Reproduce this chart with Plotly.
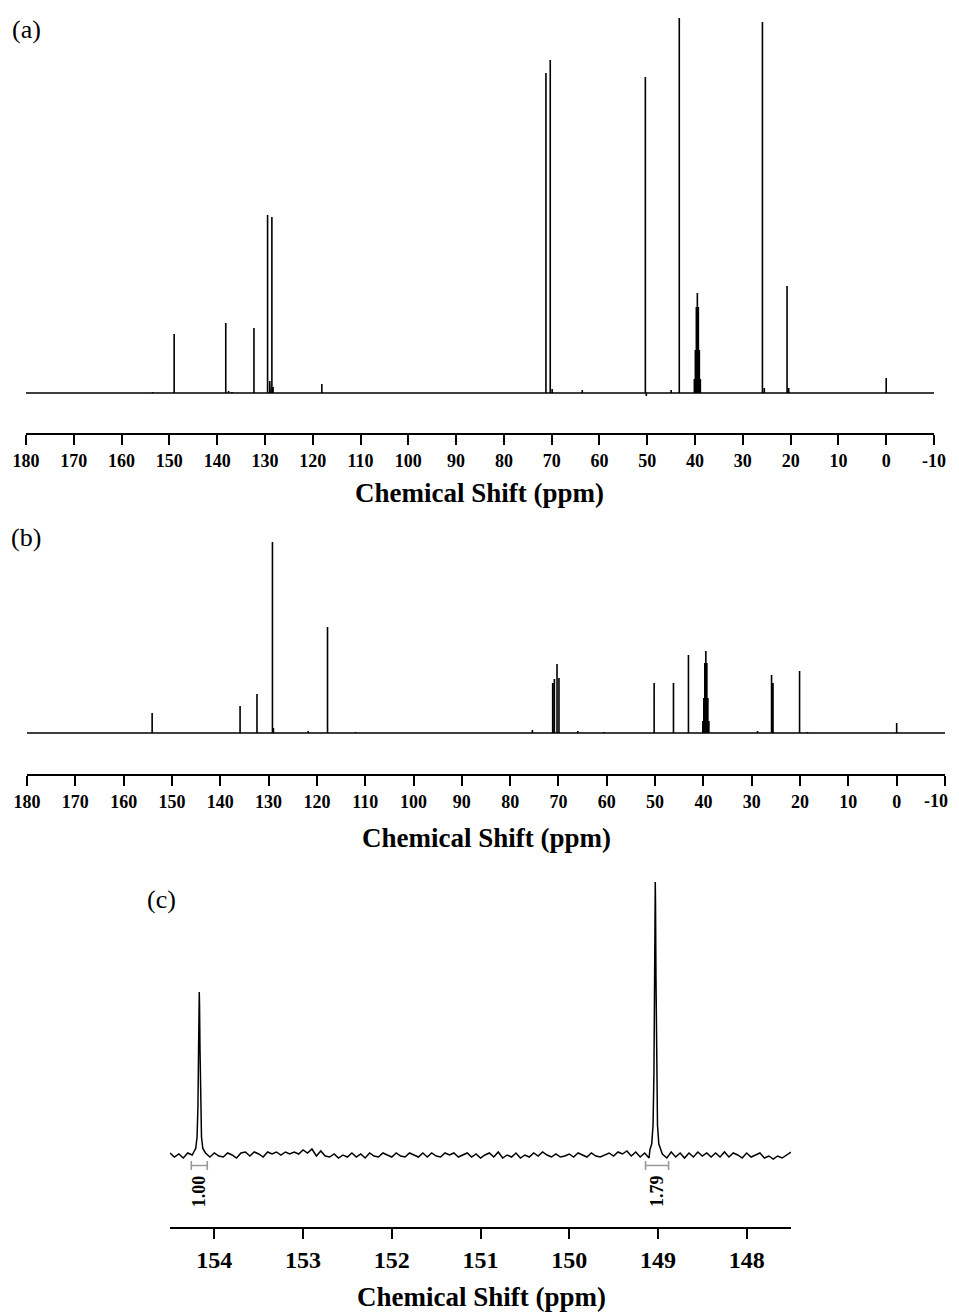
import numpy as np
import plotly.graph_objects as go

# ---------------- data ----------------
# Panel (a): peak positions (ppm) and heights (arbitrary units)
a_ppm = [153.5, 149.0, 138.2, 137.6, 136.9, 132.3, 129.45, 129.0, 128.9, 128.55, 128.3, 118.1,
         71.2, 70.3, 69.9, 63.6, 50.4, 50.2, 45.0, 43.3,
         40.15, 39.94, 39.73, 39.52, 39.31, 39.10, 38.89,
         25.9, 25.5, 20.75, 20.4, 0.0]
a_int = [1, 59, 70, 2, 1, 65, 178, 12, 8, 176, 6, 9,
         320, 333, 4, 3, 316, -3, 3, 375,
         14, 43, 86, 100, 86, 43, 14,
         371, 5, 107, 5, 15]

# Panel (b)
b_ppm = [154.1, 135.9, 132.4, 129.2, 129.0, 121.8, 117.8, 112.0, 75.4,
         71.2, 70.85, 70.3, 69.9, 66.0, 60.5, 50.2, 46.2, 43.1,
         40.13, 39.92, 39.71, 39.50, 39.29, 39.08, 38.87,
         28.8, 25.9, 25.6, 20.1, 18.5, 0.0]
b_int = [20, 27, 39, 191, 5, 2, 106, 1, 3,
         50, 54, 69, 55, 2, 1, 50, 50, 78,
         12, 35, 70, 82, 70, 35, 12,
         2, 58, 50, 62, 1, 10]

# Panel (c): expanded region 154.5 - 147.5 ppm
c_peak_ppm = [154.17, 149.03]
c_peak_int = [163, 273]
# line-shape (offset in ppm, fraction of peak height)
c_shape_off = [-0.06, -0.04, -0.025, -0.015, -0.008, -0.003, 0.0, 0.003, 0.008, 0.015, 0.025, 0.04, 0.06]
c_shape_frac = [0.02, 0.04, 0.11, 0.30, 0.65, 0.92, 1.0, 0.92, 0.65, 0.30, 0.11, 0.04, 0.02]
# baseline wiggles, read every 0.05 ppm from 154.50 to 147.50
c_base = [2, -2, 1, -3, 2, 0, 0, 0, 2, -2, 2, -1, -2, 2, 0, -3, 2, 3, -1, 3,
          1, -2, 3, 1, 3, 0, 3, 1, 3, 1, 5, 2, 6, -1, 4, -1, -2, 1, -3, 0,
          -2, 2, -2, 1, -3, 2, -1, -2, 2, 0, -2, 2, -1, -2, 2, 0, -2, 2, -2, 2,
          -1, -2, 2, 0, 2, -2, 0, 2, -2, 1, -3, 0, 2, -2, 3, -3, 0, -2, 2, -3,
          0, -2, 2, -1, 3, 0, -2, 1, -2, -1, 1, -2, 2, 0, -2, 2, -1, -2, 0, 2,
          -1, 3, 1, 4, -1, 3, -2, 2, -3, 1, 0, 1, -3, 3, -2, 2, -3, 2, -2, 3,
          -1, 2, -2, 2, -2, 3, -2, 2, 0, -3, 2, -2, 0, 2, -3, -1, -4, -1, -3, 0, 3]
c_int_lo = [154.26, 149.14]
c_int_hi = [154.08, 148.88]
c_int_val = ["1.00", "1.79"]

ticks_ab = [180, 170, 160, 150, 140, 130, 120, 110, 100, 90, 80, 70, 60, 50, 40, 30, 20, 10, 0, -10]
ticktext_ab = ["180", "170", "160", "150", "140", "130", "120", "110", "100", "90",
               "80", "70", "60", "50", "40", "30", "20", "10", "0", "-10"]
ticks_c = [154, 153, 152, 151, 150, 149, 148]

# ---------------- layout helpers ----------------
OFF = 8                      # page margin of the html body
W, H = 959 - OFF, 1314 - OFF
def py(p):  # page pixel row -> paper y
    return 1 - (p - OFF) / H
def px(p):  # page pixel column -> paper x
    return (p - OFF) / W

def sticks(ppm, inten, lo, hi):
    order = np.argsort(ppm)[::-1]
    xs, ys = [lo], [0]
    for i in order:
        xs += [ppm[i], ppm[i], ppm[i]]
        ys += [0, inten[i], 0]
    xs.append(hi); ys.append(0)
    return xs, ys

fig = go.Figure()
serif = "Liberation Serif"

xa, ya = sticks(a_ppm, a_int, 180, -10)
fig.add_trace(go.Scatter(x=xa, y=ya, mode="lines", line=dict(color="black", width=1.6),
                         xaxis="x", yaxis="y", showlegend=False, hoverinfo="skip"))
xb, yb = sticks(b_ppm, b_int, 180, -10)
fig.add_trace(go.Scatter(x=xb, y=yb, mode="lines", line=dict(color="black", width=1.6),
                         xaxis="x2", yaxis="y2", showlegend=False, hoverinfo="skip"))

# panel c curve
bx = np.linspace(154.5, 147.5, len(c_base))
pts = []
for x, v in zip(bx, c_base):
    if all(abs(x - c) > 0.065 for c in c_peak_ppm):
        pts.append((x, v))
for c, h in zip(c_peak_ppm, c_peak_int):
    for o, f in zip(c_shape_off, c_shape_frac):
        pts.append((c + o, h * f))
pts.sort(key=lambda t: -t[0])
fig.add_trace(go.Scatter(x=[p[0] for p in pts], y=[p[1] for p in pts], mode="lines",
                         line=dict(color="black", width=1.5),
                         xaxis="x3", yaxis="y3", showlegend=False, hoverinfo="skip"))

# integration brackets
for lo, hi, val in zip(c_int_lo, c_int_hi, c_int_val):
    fig.add_trace(go.Scatter(x=[lo, lo, lo, hi, hi, hi], y=[-6, -15, -10.5, -10.5, -6, -15],
                             mode="lines", line=dict(color="#9a9a9a", width=1.6),
                             xaxis="x3", yaxis="y3", showlegend=False, hoverinfo="skip"))
    fig.add_annotation(x=(lo + hi) / 2, y=-36, xref="x3", yref="y3", text=val, textangle=-90,
                       showarrow=False, font=dict(family=serif, size=18, color="black", weight="bold"))

xcommon = dict(showline=True, linecolor="black", linewidth=2, ticks="outside", tickcolor="black",
               tickwidth=2, showgrid=False, zeroline=False, mirror=False, automargin=False,
               ticklabeloverflow="allow")
tf_ab = dict(family=serif, size=18, color="black", weight="bold")
tf_c = dict(family=serif, size=24, color="black", weight="bold")
yhidden = dict(visible=False, showgrid=False, zeroline=False, fixedrange=True, automargin=False)

# panel (b): the last label sits at the right page edge, so it is placed as an annotation
ticktext_b = ticktext_ab[:-1] + [""]

fig.update_layout(
    width=W, height=H, margin=dict(l=0, r=0, t=0, b=0, autoexpand=False),
    paper_bgcolor="white", plot_bgcolor="white",
    xaxis=dict(domain=[px(26), px(934)], range=[180, -10], tickvals=ticks_ab, ticktext=ticktext_ab,
               ticklen=10, tickfont=tf_ab, anchor="y", **xcommon),
    yaxis=dict(domain=[py(433), py(10)], range=[-40, 383], anchor="x", **yhidden),
    xaxis2=dict(domain=[px(27), px(945)], range=[180, -10], tickvals=ticks_ab, ticktext=ticktext_b,
                ticklen=10, tickfont=tf_ab, anchor="y2", **xcommon),
    yaxis2=dict(domain=[py(774), py(530)], range=[-41, 203], anchor="x2", **yhidden),
    xaxis3=dict(domain=[px(170), px(791)], range=[154.5, 147.5], tickvals=ticks_c, ticklen=10,
                tickfont=tf_c, anchor="y3", **xcommon),
    yaxis3=dict(domain=[py(1226.7), py(870)], range=[-71.7, 285], anchor="x3", **yhidden),
)
fig.add_annotation(x=px(950), y=py(801), xref="paper", yref="paper", text=ticktext_ab[-1],
                   showarrow=False, font=tf_ab, xanchor="right", yanchor="middle")

title_font = dict(family=serif, size=27, color="black", weight="bold")
for (cx, cy) in [(479, 493), (486, 838), (481, 1297)]:
    fig.add_annotation(x=px(cx), y=py(cy), xref="paper", yref="paper", text="Chemical Shift (ppm)",
                       showarrow=False, font=title_font, xanchor="center", yanchor="middle")
lab_font = dict(family=serif, size=26, color="black")
for (cx, cy, t) in [(26, 29, "(a)"), (26, 537, "(b)"), (161, 899, "(c)")]:
    fig.add_annotation(x=px(cx), y=py(cy), xref="paper", yref="paper", text=t,
                       showarrow=False, font=lab_font, xanchor="center", yanchor="middle")

fig.write_html("out.html")
